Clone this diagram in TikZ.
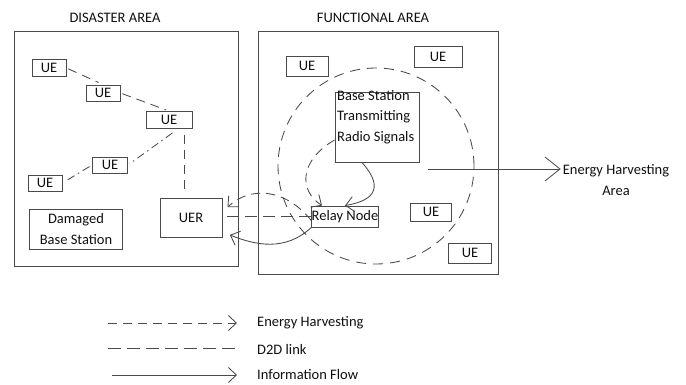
\documentclass[tikz,border=0pt]{standalone}
\usepackage{fontspec}
\setmainfont{Carlito}
\usetikzlibrary{arrows.meta,calc}
\definecolor{ln}{HTML}{4A4A4A}
\definecolor{tx}{HTML}{111111}
\begin{document}
\begin{tikzpicture}[x=1pt,y=-1pt,
  every node/.style={text=tx,font=\fontsize{14.5}{20.5}\selectfont},
  area/.style={draw=ln,line width=1pt,inner sep=0pt},
  box/.style={draw=ln,line width=0.9pt,inner sep=0pt,align=center},
  link/.style={draw=ln,line width=0.85pt},
  d2d/.style={link,dash pattern=on 9pt off 6pt},
  dd/.style={link,dash pattern=on 8pt off 4pt on 1.5pt off 4pt},
  eharv/.style={link,dash pattern=on 9pt off 6pt,-{Straight Barb[length=8pt,width=15pt]}},
  info/.style={link,-{Straight Barb[length=8pt,width=15pt]}},
  legtxt/.style={anchor=west,inner sep=0pt}
]
\useasboundingbox (0,0) rectangle (686,385);
\fill[white] (0,0) rectangle (686,385);

% areas
\node[area,minimum width=224pt,minimum height=234pt] (dis) at (126,149) {};
\node[area,minimum width=240pt,minimum height=242pt] (fun) at (378,153) {};
\node (distitle) at (115,18) {DISASTER AREA};
\node (funtitle) at (373,18) {FUNCTIONAL AREA};

% disaster area nodes
\node[box,minimum width=34pt,minimum height=17pt] (u1) at (49,68) {UE};
\node[box,minimum width=34pt,minimum height=16pt] (u2) at (103,93) {UE};
\node[box,minimum width=46pt,minimum height=17pt] (u3) at (169,120) {UE};
\node[box,minimum width=35pt,minimum height=16pt] (u4) at (110,165) {UE};
\node[box,minimum width=34pt,minimum height=16pt] (u5) at (45,183) {UE};
\node[box,minimum width=62pt,minimum height=39pt] (uer) at (191,218) {UER};
\node[box,minimum width=93pt,minimum height=40pt] (dbs) at (76,229) {Damaged\\Base Station};

% functional area nodes
\node[link,circle,dash pattern=on 10pt off 7pt,minimum size=196pt,inner sep=0pt] (cell) at (376,166) {};
\node[box,minimum width=42pt,minimum height=20pt] (ua) at (307,66) {UE};
\node[box,minimum width=48pt,minimum height=21pt] (ub) at (438,57) {UE};
\node[box,minimum width=41pt,minimum height=18pt] (uc) at (431,212) {UE};
\node[box,minimum width=43pt,minimum height=20pt] (ud) at (470,253) {UE};
\node[box,minimum width=84pt,minimum height=70pt] (bs) at (377,127) {};
\node[anchor=north west,align=left,inner sep=0pt] (bstxt) at (337,90) {Base Station\\Transmitting\\Radio Signals};
\node[box,minimum width=66pt,minimum height=21pt] (rn) at (345,216.5) {Relay Node};

% energy harvesting area
\coordinate (hs) at (428,169);
\node[align=center,inner sep=2pt] (eha) at (616,180) {Energy Harvesting\\Area};
\draw[link,-{Straight Barb[length=15pt,width=24pt]}] (hs) -- (hs -| eha.west);

% D2D links in disaster area
\draw[d2d,shorten <=2pt,shorten >=5pt] (u1.east) -- (u2.north);
\draw[d2d,shorten <=2pt,shorten >=3pt] (u2.east) -- (u3.north);
\draw[d2d,shorten <=6pt,shorten >=7pt] ([xshift=15pt]u3.south) -- ([xshift=-7pt]uer.north);
\draw[dd,shorten <=7pt,shorten >=2pt] ([xshift=9pt]u3.south) -- (u4.east);
\draw[dd,shorten <=3pt,shorten >=4pt] (u4.west) -- (u5.east);

% base station to relay node
\draw[info] ([xshift=-15pt]bs.south) .. controls (382,185) and (378,200) .. (rn.north);
\draw[eharv] ([yshift=-13pt]bs.west) .. controls (300,160) and (298,190) .. ([xshift=-23pt]rn.north);

% relay node to UER
\draw[d2d,dash pattern=on 12pt off 6pt] (rn.west) -- (rn.west -| uer.east);
\draw[eharv,shorten >=7pt] ([yshift=-4pt]rn.west) .. controls (285,188) and (250,186) .. ([yshift=6pt]uer.east);
\draw[info,shorten >=8pt] (rn.south west) .. controls (285,252) and (255,245) .. ([yshift=-14pt]uer.east);

% legend
\coordinate (l1) at (108,323);
\coordinate (l2) at (108,348);
\coordinate (l3) at (112,375);
\node[legtxt] (t1) at (257,323) {Energy Harvesting};
\node[legtxt] (t2) at (257,349) {D2D link};
\node[legtxt] (t3) at (257,375) {Information Flow};
\draw[eharv,shorten >=20pt] (l1) -- (t1.west);
\draw[d2d,dash pattern=on 13pt off 6pt,shorten >=20pt] (l2) -- (l2 -| t2.west);
\draw[info,shorten >=20pt] (l3) -- (l3 -| t3.west);
\end{tikzpicture}
\end{document}
